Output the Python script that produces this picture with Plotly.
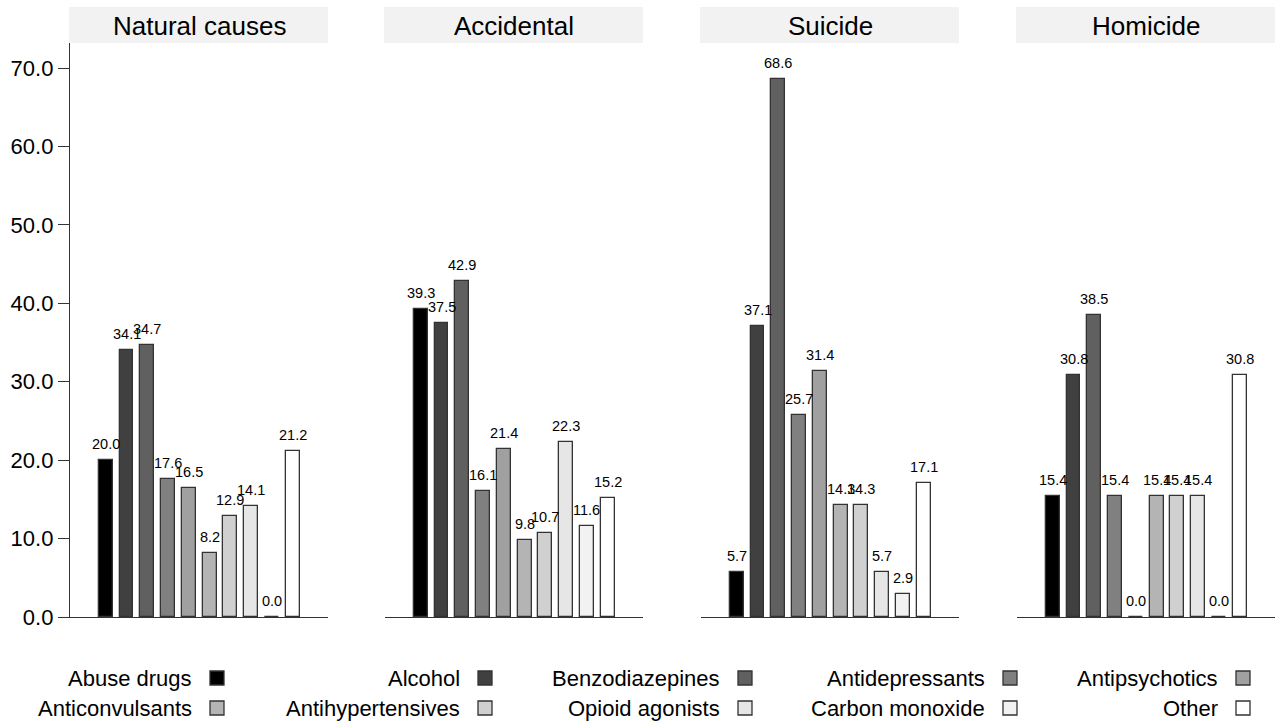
import plotly.graph_objects as go

# Drug groups (bar order within each panel) and their grey fills
drugs = ["Abuse drugs", "Alcohol", "Benzodiazepines", "Antidepressants", "Antipsychotics",
         "Anticonvulsants", "Antihypertensives", "Opioid agonists", "Carbon monoxide", "Other"]
fills = ["#000000", "#404040", "#606060", "#808080", "#a0a0a0",
         "#b4b4b4", "#d0d0d0", "#e6e6e6", "#f2f2f2", "#ffffff"]

# Manner of death panels
panels = ["Natural causes", "Accidental", "Suicide", "Homicide"]

# Percentages per panel, in drug order
natural = [20.0, 34.1, 34.7, 17.6, 16.5, 8.2, 12.9, 14.1, 0.0, 21.2]
accidental = [39.3, 37.5, 42.9, 16.1, 21.4, 9.8, 10.7, 22.3, 11.6, 15.2]
suicide = [5.7, 37.1, 68.6, 25.7, 31.4, 14.3, 14.3, 5.7, 2.9, 17.1]
homicide = [15.4, 30.8, 38.5, 15.4, 0.0, 15.4, 15.4, 15.4, 0.0, 30.8]

y_ticks = [0, 10, 20, 30, 40, 50, 60, 70]

W, H = 1278, 724
FONT = "Liberation Sans, Arial, Helvetica, sans-serif"
EDGE = "#333333"

panel_values = [natural, accidental, suicide, homicide]
panel_px = [(70, 328), (385, 643), (701, 959), (1017, 1275)]
plot_top, plot_bottom = 43, 617

def px_x(v):
    return v / W

def px_y(v):
    return 1 - v / H

fig = go.Figure()
annotations = []
shapes = []
positions = list(range(len(drugs)))

for i, (name, vals, (x0, x1)) in enumerate(zip(panels, panel_values, panel_px)):
    n = "" if i == 0 else str(i + 1)
    fig.add_trace(go.Bar(
        x=positions, y=vals, width=0.67,
        marker=dict(color=fills, line=dict(color=EDGE, width=1.3)),
        xaxis="x" + n, yaxis="y" + n, showlegend=False, hoverinfo="skip",
    ))
    # value labels above bars
    for p, v in zip(positions, vals):
        annotations.append(dict(
            x=p, y=v, xref="x" + n, yref="y" + n, text=f"{v:.1f}",
            showarrow=False, yanchor="bottom", xanchor="center", yshift=6,
            font=dict(family=FONT, size=14.5, color="#000000"),
        ))
    # panel strip header
    shapes.append(dict(type="rect", xref="paper", yref="paper",
                       x0=px_x(x0 - 1), x1=px_x(x1), y0=px_y(plot_top), y1=px_y(7),
                       fillcolor="#f2f2f2", line=dict(width=0), layer="below"))
    annotations.append(dict(x=px_x((x0 + x1) / 2), y=px_y(26), xref="paper", yref="paper",
                            text=name, showarrow=False, xanchor="center", yanchor="middle",
                            font=dict(family=FONT, size=26, color="#000000")))
    xa = dict(domain=[px_x(x0), px_x(x1)], range=[-1.72, 10.7], showgrid=False,
              zeroline=False, showticklabels=False, ticks="", showline=True,
              linecolor=EDGE, linewidth=1.3, anchor="y" + n, fixedrange=True,
              automargin=False)
    ya = dict(domain=[px_y(plot_bottom), px_y(plot_top)], range=[0, 73.2], showgrid=False,
              zeroline=False, anchor="x" + n, fixedrange=True, automargin=False)
    if i == 0:
        ya.update(showline=True, linecolor=EDGE, linewidth=1.3, ticks="outside", ticklen=11,
                  tickcolor=EDGE, tickvals=y_ticks, ticktext=[f"{t:.1f}" for t in y_ticks],
                  tickfont=dict(family=FONT, size=22, color="#000000"))
    else:
        ya.update(showline=False, showticklabels=False, ticks="", matches="y")
    fig.layout["xaxis" + n] = xa
    fig.layout["yaxis" + n] = ya

# Legend: two rows of five, label right-aligned to the left of its swatch
swatch_left = [210, 478, 738, 1003, 1236]
row_y = [678, 708]
for k, (d, c) in enumerate(zip(drugs, fills)):
    row, col = divmod(k, 5)
    sx, sy = swatch_left[col], row_y[row]
    shapes.append(dict(type="rect", xref="paper", yref="paper",
                       x0=px_x(sx), x1=px_x(sx + 14), y0=px_y(sy + 7), y1=px_y(sy - 7),
                       fillcolor=c, line=dict(color=EDGE, width=1.3)))
    annotations.append(dict(x=px_x(sx - 16), y=px_y(sy), xref="paper", yref="paper",
                            text=d, showarrow=False, xanchor="right", yanchor="middle",
                            font=dict(family=FONT, size=22, color="#000000")))

fig.update_layout(
    width=W, height=H, margin=dict(l=0, r=0, t=0, b=0, pad=0, autoexpand=False),
    paper_bgcolor="#ffffff", plot_bgcolor="#ffffff",
    annotations=annotations, shapes=shapes, bargap=0,
)

fig.write_html("out.html")
